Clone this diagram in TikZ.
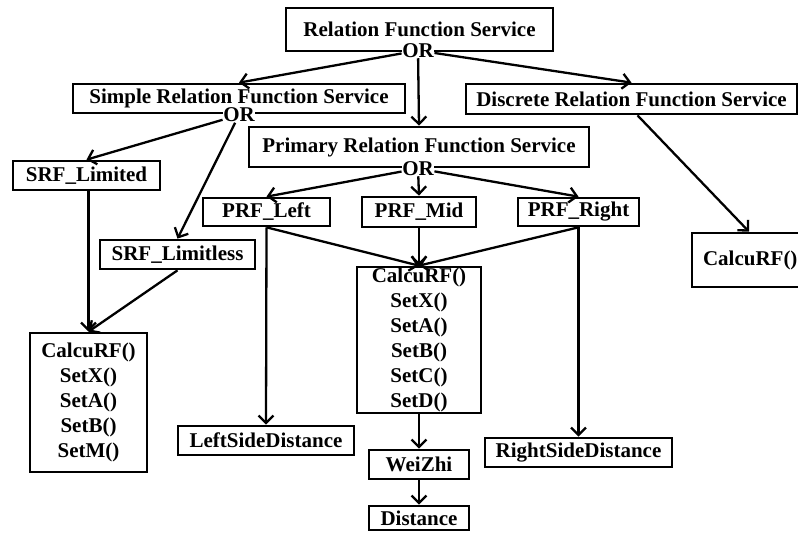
\documentclass[tikz,border=0pt]{standalone}
\usepackage{fontspec}
\setmainfont{Liberation Serif}
\usetikzlibrary{arrows.meta}
\tikzset{
  bx/.style={draw, line width=2.7pt, inner sep=0pt, font=\bfseries\fontsize{21}{25}\selectfont, align=center, fill=white},
  ornode/.style={inner sep=0.5pt, fill=white, font=\bfseries\fontsize{21}{25}\selectfont},
  arr/.style={line width=2.3pt, -{Straight Barb[length=7.5pt,width=15pt,line width=2.3pt]}},
}
\begin{document}
\begin{tikzpicture}[x=1pt,y=-1pt]
\useasboundingbox (0,0) rectangle (798,534);
% boxes
\node[bx, minimum width=267pt, minimum height=43pt] (rfs) at (419.5,29.5) {Relation Function Service};
\node[bx, minimum width=332pt, minimum height=29pt] (srfs) at (239,98.5) {Simple Relation Function Service};
\node[bx, minimum width=331pt, minimum height=30pt] (drfs) at (631.5,99) {Discrete Relation Function Service};
\node[bx, minimum width=340pt, minimum height=40pt] (prfs) at (419,147) {Primary Relation Function Service};
\node[bx, minimum width=147pt, minimum height=29pt] (srfl) at (86.5,175.5) {SRF\_Limited};
\node[bx, minimum width=127pt, minimum height=28pt] (prfl) at (266.5,212) {PRF\_Left};
\node[bx, minimum width=114pt, minimum height=30pt] (prfm) at (419,212) {PRF\_Mid};
\node[bx, minimum width=121pt, minimum height=28pt] (prfr) at (578.5,212) {PRF\_Right};
\node[bx, minimum width=155pt, minimum height=29pt] (srfx) at (177.5,254.5) {SRF\_Limitless};
\node[bx, minimum width=124pt, minimum height=146pt] (midm) at (419,340) {CalcuRF()\\SetX()\\SetA()\\SetB()\\SetC()\\SetD()};
\node[bx, minimum width=117pt, minimum height=139pt] (leftm) at (88.5,402.5) {CalcuRF()\\SetX()\\SetA()\\SetB()\\SetM()};
\node[bx, minimum width=176pt, minimum height=29pt] (lsd) at (266,440.5) {LeftSideDistance};
\node[bx, minimum width=187pt, minimum height=29pt] (rsd) at (578.5,452.5) {RightSideDistance};
\node[bx, minimum width=100pt, minimum height=29pt] (wz) at (419,464.5) {WeiZhi};
\node[bx, minimum width=100pt, minimum height=24pt] (dist) at (419,518) {Distance};
\node[bx, minimum width=118pt, minimum height=54pt, text width=118pt, align=left] (rcalc) at (751,260) {\hspace*{11pt}CalcuRF()};
% OR nodes
\node[ornode] (or1) at (418,50.5) {OR};
\node[ornode] (or2) at (239,115) {OR};
\node[ornode] (or3) at (418,168.5) {OR};
% connectors
\draw[arr] (or1) -- (srfs.north);
\draw[arr] (or1) -- (prfs.north);
\draw[arr] (or1) -- (drfs.north);
\draw[arr] (or2) -- (srfl.north);
\draw[arr] (or2) -- (srfx.north);
\draw[arr] (or3) -- (prfl.north);
\draw[arr] (or3) -- (prfm.north);
\draw[arr] (or3) -- (prfr.north);
\draw[arr] ([xshift=6pt]drfs.south) -- ([xshift=-2pt]rcalc.north);
\draw[arr] (srfl.south -| leftm.north) -- (leftm.north);
\draw[arr] (srfx.south) -- (leftm.north);
\draw[arr] (prfl.south) -- (lsd.north);
\draw[arr] (prfl.south) -- (midm.north);
\draw[arr] (prfm.south) -- (midm.north);
\draw[arr] (prfr.south) -- (midm.north);
\draw[arr] (prfr.south) -- (rsd.north);
\draw[arr] (midm.south) -- (wz.north);
\draw[arr] (wz.south) -- (dist.north);
\end{tikzpicture}
\end{document}
